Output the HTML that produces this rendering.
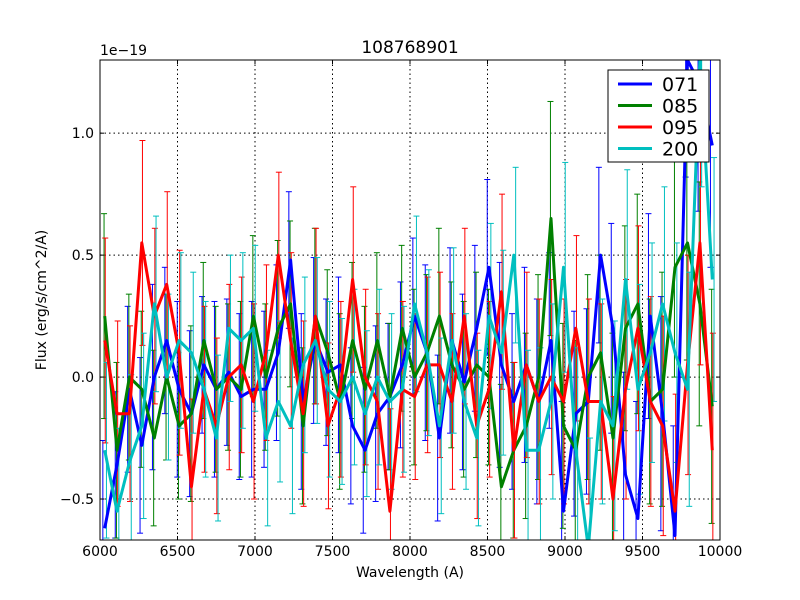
<!DOCTYPE html>
<html><head><meta charset="utf-8"><style>
html,body{margin:0;padding:0;background:#fff;overflow:hidden;width:800px;height:600px;}
svg{display:block;font-family:"DejaVu Sans","Liberation Sans",sans-serif;}
</style></head><body>
<svg id="chart" width="800" height="600" viewBox="0 0 800 600" xmlns="http://www.w3.org/2000/svg">
<rect x="0" y="0" width="800" height="600" fill="#fff"/>
<defs><clipPath id="plotclip"><rect x="100" y="60" width="620" height="480"/></clipPath></defs>
<g id="grid"></g>
<g id="series" clip-path="url(#plotclip)"></g>
<rect x="100" y="60" width="620" height="480" fill="none" stroke="#000" stroke-width="1"/>
<g id="ticks"></g>
<text x="410" y="53" font-size="17" text-anchor="middle">108768901</text>
<text x="100" y="55" font-size="14">1e−19</text>
<text x="410" y="577" font-size="14" text-anchor="middle">Wavelength (A)</text>
<text x="46" y="300" font-size="14" text-anchor="middle" transform="rotate(-90 46 300)">Flux (erg/s/cm^2/A)</text>
<g id="legend"></g>
</svg>
<script>
const xTicks = [6000,6500,7000,7500,8000,8500,9000,9500,10000];
const yTicks = [-0.5,0.0,0.5,1.0];
const yTickLabels = ["−0.5","0.0","0.5","1.0"];
const seriesNames = ["071","085","095","200"];
const seriesColors = ["#0000ff","#008000","#ff0000","#00bfbf"];
const wavelengths = [6030,6110,6190,6270,6350,6430,6510,6590,6670,6750,6830,6910,6990,7070,7150,7230,7310,7390,7470,7550,7630,7710,7790,7870,7950,8030,8110,8190,8270,8350,8430,8510,8590,8670,8750,8830,8910,8990,9070,9150,9230,9310,9390,9470,9550,9630,9710,9790,9870,9950];
const flux071 = [-0.62,-0.36,-0.05,-0.28,0.0,0.15,-0.05,-0.15,0.05,-0.05,0.02,-0.08,-0.05,-0.05,0.1,0.48,-0.1,0.15,0.02,0.05,-0.2,-0.3,-0.15,-0.08,0.05,0.25,0.1,-0.25,0.15,-0.02,0.2,0.45,0.05,-0.1,0.05,-0.1,0.15,-0.55,-0.15,-0.1,0.5,0.2,-0.4,-0.58,0.25,-0.15,-0.65,1.3,1.2,0.95];
const flux085 = [0.25,-0.3,0.0,-0.05,-0.25,0.0,-0.2,-0.15,0.15,-0.05,0.0,-0.05,0.25,0.0,0.2,0.3,-0.2,0.25,0.1,-0.1,0.15,-0.05,0.15,-0.08,0.2,0.0,0.1,0.25,0.05,-0.05,0.05,0.0,-0.45,-0.3,-0.2,0.0,0.65,-0.2,-0.3,0.0,0.1,-0.25,0.2,0.3,-0.1,-0.05,0.45,0.55,0.3,-0.12];
const flux095 = [0.15,-0.15,-0.15,0.55,0.25,0.38,0.1,-0.45,-0.05,-0.2,0.0,0.05,-0.1,0.1,0.5,0.15,-0.15,0.25,-0.2,-0.05,0.4,0.0,-0.1,-0.55,-0.05,-0.08,0.05,0.05,-0.1,0.25,-0.2,-0.05,0.35,-0.3,0.05,-0.1,0.0,-0.1,0.2,-0.1,-0.1,-0.5,-0.05,0.2,-0.1,-0.2,-0.55,0.05,0.55,-0.3];
const flux200 = [-0.3,-0.55,-0.35,-0.2,0.3,0.0,0.15,0.1,-0.05,-0.25,0.2,0.15,0.2,-0.25,-0.1,-0.2,0.05,0.15,-0.05,-0.1,0.0,-0.15,0.0,-0.1,-0.05,0.3,0.1,-0.2,0.15,-0.1,-0.25,0.25,0.1,0.5,-0.3,-0.3,-0.1,0.45,-0.3,-0.7,-0.1,-0.2,0.4,-0.05,0.1,0.3,0.1,-0.05,1.3,0.4];
const err071 = [0.36,0.3,0.34,0.36,0.38,0.3,0.36,0.34,0.28,0.36,0.3,0.34,0.36,0.32,0.36,0.28,0.36,0.34,0.3,0.36,0.32,0.34,0.36,0.3,0.34,0.32,0.36,0.34,0.38,0.36,0.34,0.36,0.42,0.36,0.4,0.42,0.36,0.45,0.42,0.38,0.36,0.43,0.42,0.48,0.42,0.48,0.45,0.48,0.52,0.5];
const err085 = [0.42,0.36,0.34,0.32,0.36,0.34,0.3,0.36,0.32,0.34,0.3,0.36,0.33,0.3,0.36,0.34,0.32,0.36,0.34,0.36,0.32,0.34,0.36,0.3,0.34,0.36,0.32,0.36,0.34,0.36,0.38,0.36,0.42,0.36,0.38,0.42,0.48,0.42,0.45,0.42,0.4,0.43,0.42,0.45,0.42,0.48,0.45,0.48,0.5,0.48];
const err095 = [0.42,0.38,0.36,0.42,0.36,0.38,0.42,0.36,0.34,0.36,0.38,0.36,0.4,0.36,0.34,0.36,0.38,0.36,0.34,0.36,0.38,0.36,0.36,0.42,0.36,0.34,0.36,0.38,0.36,0.36,0.38,0.36,0.4,0.36,0.38,0.42,0.4,0.42,0.38,0.42,0.4,0.42,0.45,0.42,0.43,0.45,0.48,0.45,0.5,0.48];
const err200 = [0.36,0.34,0.36,0.38,0.36,0.34,0.36,0.33,0.36,0.34,0.3,0.36,0.34,0.36,0.33,0.36,0.36,0.34,0.36,0.34,0.36,0.34,0.36,0.36,0.34,0.36,0.34,0.36,0.38,0.36,0.36,0.38,0.42,0.36,0.41,0.42,0.4,0.43,0.42,0.45,0.42,0.43,0.45,0.43,0.45,0.48,0.45,0.48,0.52,0.5];
const allFlux = [flux071,flux085,flux095,flux200];
const allErr = [err071,err085,err095,err200];

const NS = "http://www.w3.org/2000/svg";
const X0=100, X1=720, Y0=60, Y1=540, XMIN=6000, XMAX=10000, YMIN=-0.668, YMAX=1.3;
function xs(v){return X0+(v-XMIN)/(XMAX-XMIN)*(X1-X0);}
function ys(v){return Y1-(v-YMIN)/(YMAX-YMIN)*(Y1-Y0);}
function mk(tag, attrs, parent){const e=document.createElementNS(NS,tag);for(const k in attrs)e.setAttribute(k,attrs[k]);parent.appendChild(e);return e;}

const grid=document.getElementById('grid'), ticks=document.getElementById('ticks');
xTicks.forEach((t,i)=>{
  const x=xs(t);
  if(i>0&&i<xTicks.length-1){
    const g=mk('line',{x1:x,x2:x,y1:Y0,y2:Y1,stroke:'#000','stroke-dasharray':'1.5,3','stroke-width':1},grid);
    
    
  }
  mk('line',{x1:x,x2:x,y1:Y1,y2:Y1-4,stroke:'#000'},ticks);
  mk('line',{x1:x,x2:x,y1:Y0,y2:Y0+4,stroke:'#000'},ticks);
  const tx=mk('text',{x:x,y:Y1+16,'font-size':14,'text-anchor':'middle'},ticks);
  tx.textContent=t;
  
  
});
yTicks.forEach((t,i)=>{
  const y=ys(t);
  const g=mk('line',{x1:X0,x2:X1,y1:y,y2:y,stroke:'#000','stroke-dasharray':'1.5,3','stroke-width':1},grid);
  
  
  mk('line',{x1:X0,x2:X0+4,y1:y,y2:y,stroke:'#000'},ticks);
  mk('line',{x1:X1,x2:X1-4,y1:y,y2:y,stroke:'#000'},ticks);
  const tx=mk('text',{x:X0-6,y:y+5,'font-size':14,'text-anchor':'end'},ticks);
  tx.textContent=yTickLabels[i];
  
  
});

const sg=document.getElementById('series');
allFlux.forEach((f,s)=>{
  const col=seriesColors[s];
  const g=mk('g',{},sg);
  
  
  f.forEach((v,i)=>{
    const x=xs(wavelengths[i])+(s-1.5)*1.2, e=allErr[s][i];
    const yt=ys(v+e), yb=ys(v-e);
    const eb=mk('line',{x1:x,x2:x,y1:yt,y2:yb,stroke:col,'stroke-width':1},g);
    
    
    mk('line',{x1:x-3,x2:x+3,y1:yt,y2:yt,stroke:col,'stroke-width':1},g);
    mk('line',{x1:x-3,x2:x+3,y1:yb,y2:yb,stroke:col,'stroke-width':1},g);
  });
});
allFlux.forEach((f,s)=>{
  const pts=f.map((v,i)=>xs(wavelengths[i]).toFixed(1)+','+ys(v).toFixed(1)).join(' ');
  const pl=mk('polyline',{points:pts,fill:'none',stroke:seriesColors[s],'stroke-width':3,'stroke-linejoin':'round'},sg);
  
  
});

const lg=document.getElementById('legend');
mk('rect',{x:608,y:70,width:101,height:92,fill:'#fff',stroke:'#000','stroke-width':1},lg);
seriesNames.forEach((n,i)=>{
  const y=84+i*21.5;
  const ln=mk('line',{x1:618,x2:652,y1:y,y2:y,stroke:seriesColors[i],'stroke-width':3},lg);
  
  
  const t=mk('text',{x:662,y:y+7,'font-size':19},lg);
  t.textContent=n;
  
  
});
</script>
</body></html>
